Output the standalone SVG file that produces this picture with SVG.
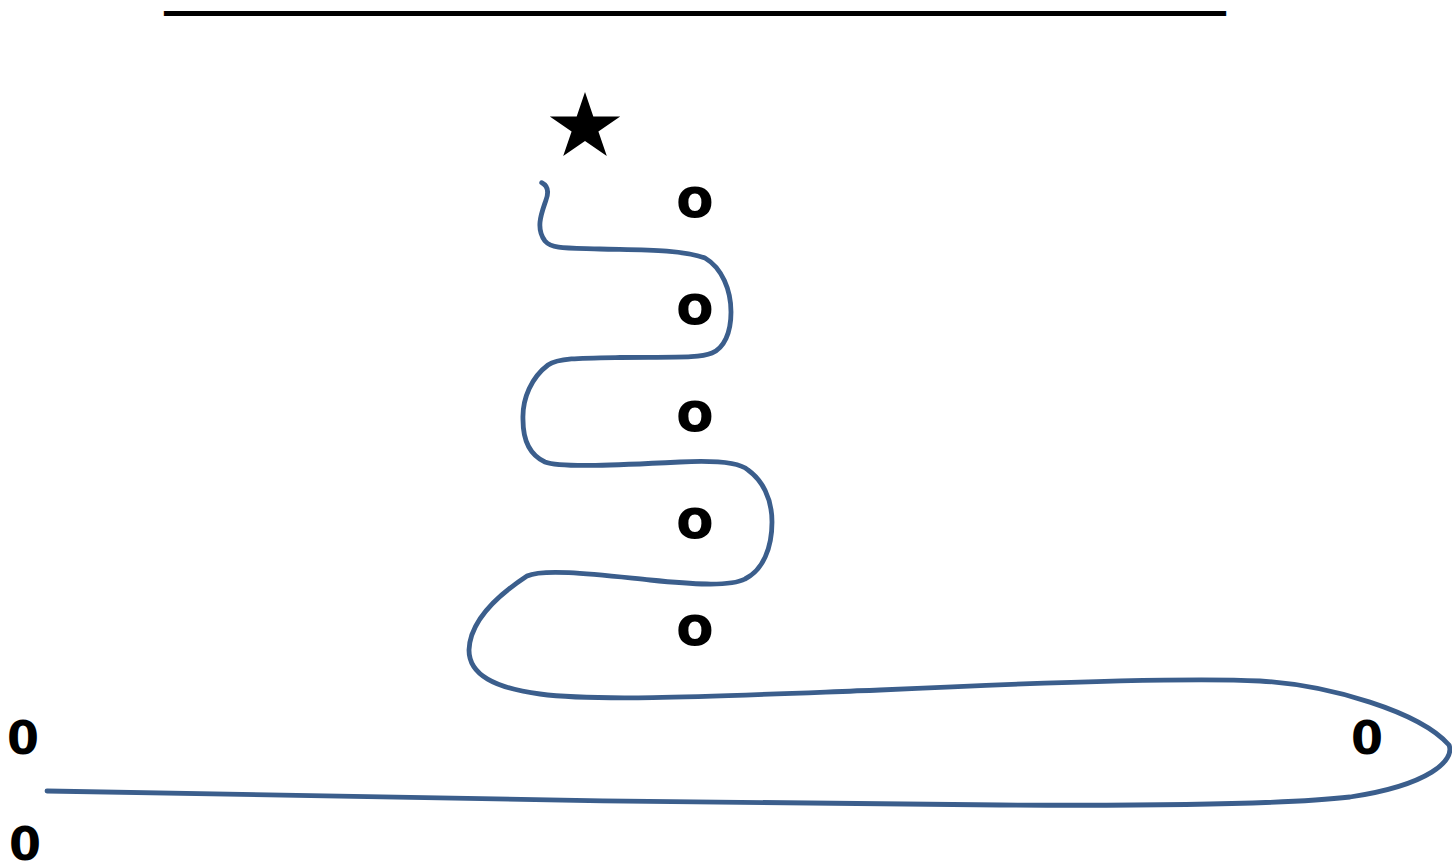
<svg xmlns="http://www.w3.org/2000/svg" width="1452" height="863" viewBox="0 0 1452 863">
<style>
.o{font-family:"DejaVu Sans","Liberation Sans",sans-serif;font-weight:bold;font-size:55px;fill:#000;text-anchor:middle}
.z{font-family:"DejaVu Sans","Liberation Sans",sans-serif;font-weight:bold;font-size:46px;fill:#000;text-anchor:middle}
.rule{font-family:"Liberation Sans",Arial,sans-serif;font-weight:bold;font-size:12px;fill:#000;stroke:#000;stroke-width:4.4}
.curve{fill:none;stroke:#3b5e8c;stroke-width:4.8;stroke-linecap:round;stroke-linejoin:round}
</style>
<rect width="1452" height="863" fill="#fff"/>
<g id="title-rule"><text class="rule" x="173" y="11.6" textLength="1044" lengthAdjust="spacingAndGlyphs">________________________________________</text></g>
<g id="star"><polygon points="585,92 593.3,116.5 620.2,116.5 598.4,131.6 606.8,156 585,140.9 563.2,156 571.6,131.6 549.8,116.5 576.7,116.5" fill="#000"/></g>
<g id="connectors">
<path class="curve" d="M541.7 182.7 C548 186,549 192,546 200 C542 212,535 228,545 241 C552 249,565 248,600 249 C640 250,680 249,705 258 C722 268,731 290,731 312 C731 333,724 348,712 353 C700 358,680 357,620 357.5 C580 358,558 358,548 365 C532 377,522 398,523 420 C523 441,530 455,545 462 C560 468,620 465,680 462 C720 460,740 463,748 470 C762 480,772 498,772 522 C772 548,763 570,745 579 C730 587,690 584,650 580 C600 575,545 568,527 576 C495 597,470 622,469 650 C469 675,495 688,540 694 C600 702,720 696,880 690 C1050 682,1200 678,1260 681 C1330 685,1420 712,1449 745 C1455 760,1430 785,1350 797 C1280 805,1150 806,1000 805 C700 803,300 797,47 791"/>
</g>
<g id="o1"><text class="o" x="695" y="217">o</text></g>
<g id="o2"><text class="o" x="695" y="324">o</text></g>
<g id="o3"><text class="o" x="695" y="431">o</text></g>
<g id="o4"><text class="o" x="695" y="538">o</text></g>
<g id="o5"><text class="o" x="695" y="645">o</text></g>
<g id="zero-left-top"><text class="z" x="23" y="754">0</text></g>
<g id="zero-left-bottom"><text class="z" x="25" y="860">0</text></g>
<g id="zero-right"><text class="z" x="1367" y="754">0</text></g>
</svg>
